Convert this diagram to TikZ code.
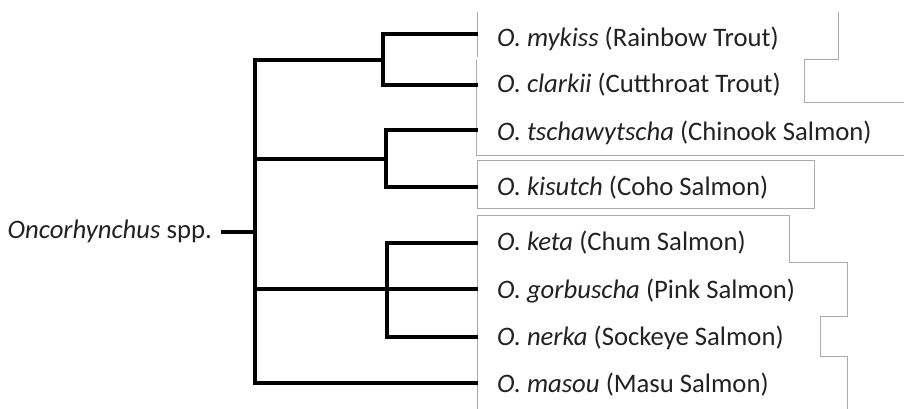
\documentclass[tikz,border=0pt]{standalone}
\usepackage{fontspec}
\setmainfont{Carlito}
\definecolor{frame}{HTML}{ABABAB}
\definecolor{ink}{HTML}{222222}
\begin{document}
\begin{tikzpicture}[x={(1pt,0)}, y={(0,-1pt)},
  branch/.style={line width=3.5pt, line join=miter, line cap=rect, black},
  outline/.style={line width=1pt, frame},
  leaf/.style={anchor=base west, inner sep=0pt, text=ink,
    font=\fontsize{26.7}{32}\selectfont},
  rootlabel/.style={anchor=base east, inner sep=0pt, text=ink,
    font=\fontsize{26.7}{32}\selectfont}]
\useasboundingbox[fill=white] (0,0) rectangle (904,409);

% text-box outlines behind the species names
\draw[outline] (477,12) -- (477,57);
\draw[outline] (476,60) -- (476,155) -- (904,155);
\draw[outline] (838,12) -- (838,60) -- (804,60) -- (804,103) -- (904,103);
\draw[outline] (477,160) rectangle (814,208);
\draw[outline] (477,409) -- (477,215) -- (789,215) -- (789,262) -- (847,262)
  -- (847,316) -- (820,316) -- (820,356) -- (847,356) -- (847,409);

% species names
\node[leaf] (mykiss) at (497,47) {\textit{O. mykiss} (Rainbow Trout)};
\node[leaf] (clarkii) at (497,93) {\textit{O. clarkii} (Cutthroat Trout)};
\node[leaf] (tscha) at (497,140) {\textit{O. tschawytscha} (Chinook Salmon)};
\node[leaf] (kisutch) at (497,195) {\textit{O. kisutch} (Coho Salmon)};
\node[leaf] (keta) at (497,250) {\textit{O. keta} (Chum Salmon)};
\node[leaf] (gorb) at (497,298) {\textit{O. gorbuscha} (Pink Salmon)};
\node[leaf] (nerka) at (497,345) {\textit{O. nerka} (Sockeye Salmon)};
\node[leaf] (masou) at (497,392) {\textit{O. masou} (Masu Salmon)};
\node[rootlabel] (genus) at (212,238) {\textit{Oncorhynchus} spp.};

% branch tips and junctions
\coordinate (tmykiss) at (476,34);
\coordinate (tclarkii) at (476,85);
\coordinate (ttscha) at (476,130);
\coordinate (tkisutch) at (476,187);
\coordinate (tketa) at (476,243);
\coordinate (tgorb) at (476,289);
\coordinate (tnerka) at (476,337);
\coordinate (tmasou) at (476,383);
\coordinate (jtrout) at (383,60);
\coordinate (jking) at (386,159);
\coordinate (jpac) at (387,289);
\coordinate (rootl) at (223,232);
\coordinate (rootr) at (255,232);
\coordinate (spinetop) at (255,60);
\coordinate (spinebot) at (255,383);

% cladogram
\draw[branch] (tmykiss) -| (jtrout) |- (tclarkii);
\draw[branch] (ttscha) -| (jking) |- (tkisutch);
\draw[branch] (tketa) -| (jpac) |- (tnerka);
\draw[branch] (jtrout) -- (spinetop) -- (spinebot) -- (tmasou);
\draw[branch] (spinetop |- jking) -- (jking);
\draw[branch] (spinetop |- jpac) -- (tgorb);
\draw[branch] (rootl) -- (rootr);
\end{tikzpicture}
\end{document}
